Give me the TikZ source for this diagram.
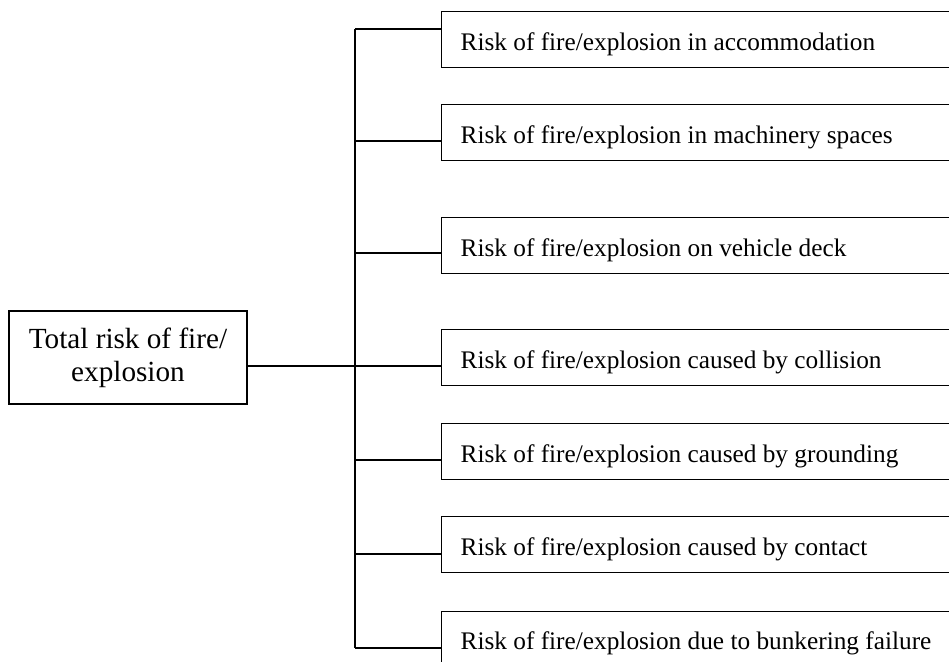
\documentclass[tikz,border=0pt]{standalone}
\usepackage{fontspec}
\setmainfont{Liberation Serif}
\begin{document}
\begin{tikzpicture}[x=1pt,y=-1pt,
  line width=1.3pt,
  rootbox/.style={draw, rectangle, minimum width=238pt, minimum height=93pt,
    inner sep=0pt, align=center, font=\fontsize{29.2}{33.3}\selectfont},
  riskbox/.style={draw, rectangle, anchor=north west, minimum width=540pt,
    minimum height=56pt, inner sep=0pt},
  risktext/.style={anchor=base west, inner sep=0pt,
    font=\fontsize{25.3}{30}\selectfont}]
\useasboundingbox (0,0) rectangle (949,661);
\clip (0,0) rectangle (949,661);

% root node
\node[rootbox] (root) at (128,357.5) {Total risk of fire/\\explosion};

% branch boxes (they run off the right edge)
\node[riskbox] (b1) at (441,11) {};
\node[riskbox] (b2) at (441,104) {};
\node[riskbox] (b3) at (441,217) {};
\node[riskbox] (b4) at (441,329) {};
\node[riskbox] (b5) at (441,423) {};
\node[riskbox] (b6) at (441,516) {};
\node[riskbox] (b7) at (441,611) {};

\node[risktext] (t1) at ([shift={(19,40)}]b1.north west) {Risk of fire/explosion in accommodation};
\node[risktext] (t2) at ([shift={(19,39)}]b2.north west) {Risk of fire/explosion in machinery spaces};
\node[risktext] (t3) at ([shift={(19,39)}]b3.north west) {Risk of fire/explosion on vehicle deck};
\node[risktext] (t4) at ([shift={(19,39)}]b4.north west) {Risk of fire/explosion caused by collision};
\node[risktext] (t5) at ([shift={(19,39)}]b5.north west) {Risk of fire/explosion caused by grounding};
\node[risktext] (t6) at ([shift={(19,39)}]b6.north west) {Risk of fire/explosion caused by contact};
\node[risktext] (t7) at ([shift={(19,38)}]b7.north west) {Risk of fire/explosion due to bunkering failure};

% junctions on the vertical bus
\coordinate (j1) at (355,29);
\coordinate (j2) at (355,141);
\coordinate (j3) at (355,253);
\coordinate (j4) at (355,366);
\coordinate (j5) at (355,460);
\coordinate (j6) at (355,554);
\coordinate (j7) at (355,648);

% connectors
\draw (root.east |- j4) -- (j4);
\draw (j1) -- (j7);
\foreach \i in {1,...,7} {
  \draw (j\i) -- (j\i -| b\i.west);
}
\end{tikzpicture}
\end{document}
